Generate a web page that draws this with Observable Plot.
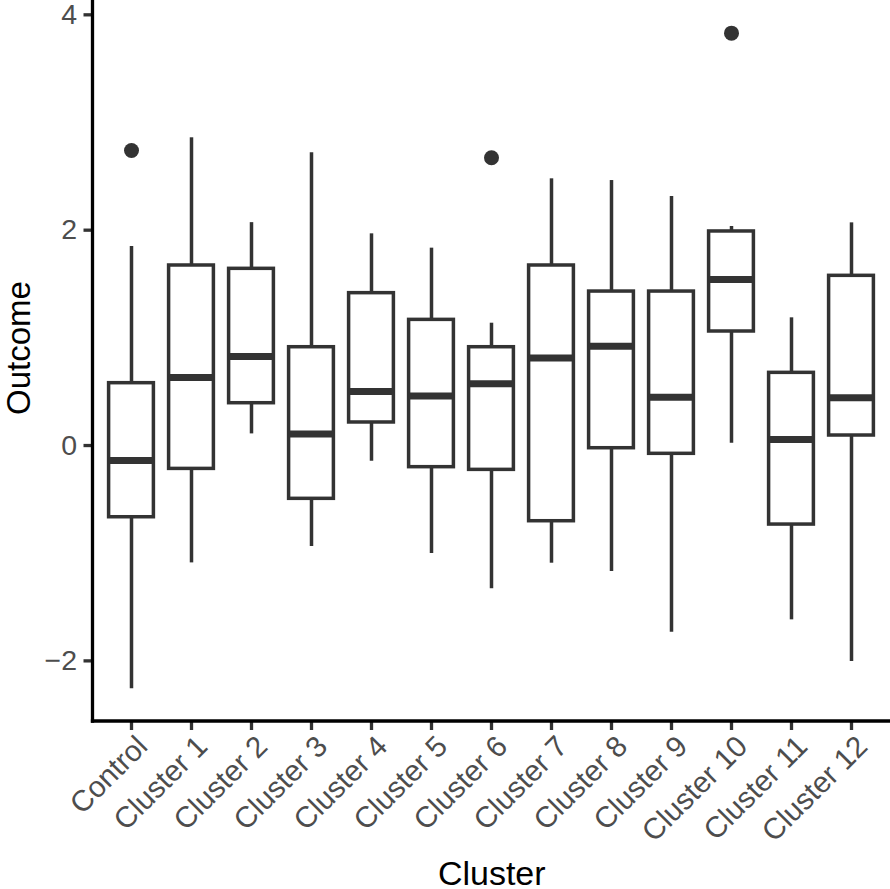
<!DOCTYPE html>
<html>
<head>
<meta charset="utf-8">
<script src="https://cdn.jsdelivr.net/npm/d3@7"></script>
<script src="https://cdn.jsdelivr.net/npm/@observablehq/plot@0.6"></script>
<style>
  html, body { margin: 0; padding: 0; background: #fff; }
  #chart svg { display: block; }
</style>
</head>
<body>
<div id="chart"></div>
<script>
const categories = ["Control", "Cluster 1", "Cluster 2", "Cluster 3", "Cluster 4", "Cluster 5", "Cluster 6", "Cluster 7", "Cluster 8", "Cluster 9", "Cluster 10", "Cluster 11", "Cluster 12"];
const lowerWhisker = [-2.26, -1.09, 0.108, -0.938, -0.146, -1.003, -1.33, -1.093, -1.17, -1.734, 0.021, -1.619, -2.006];
const q1 = [-0.666, -0.217, 0.393, -0.495, 0.214, -0.201, -0.226, -0.703, -0.025, -0.077, 1.059, -0.734, 0.093];
const median = [-0.139, 0.632, 0.827, 0.108, 0.502, 0.461, 0.573, 0.814, 0.922, 0.449, 1.542, 0.056, 0.443];
const q3 = [0.579, 1.672, 1.641, 0.913, 1.415, 1.167, 0.913, 1.672, 1.430, 1.430, 1.988, 0.675, 1.576];
const upperWhisker = [1.848, 2.858, 2.07, 2.718, 1.966, 1.833, 1.136, 2.477, 2.461, 2.313, 2.034, 1.186, 2.068];
const outlierCategory = ["Control", "Cluster 6", "Cluster 10"];
const outlierValue = [2.74, 2.672, 3.83];
const yTicks = [-2, 0, 2, 4];
const xTitle = "Cluster";
const yTitle = "Outcome";

const boxes = categories.map((c, i) => ({
  cluster: c, lo: lowerWhisker[i], q1: q1[i], med: median[i], q3: q3[i], hi: upperWhisker[i]
}));
const outliers = outlierCategory.map((c, i) => ({cluster: c, value: outlierValue[i]}));

const W = 890, H = 889;
const stroke = "#333333";
const boxInset = 7.6;
const font = "'Liberation Sans', Arial, Helvetica, sans-serif";

const chart = Plot.plot({
  width: W,
  height: H,
  marginLeft: 92.5,
  marginRight: 0,
  marginTop: 0,
  marginBottom: 168,
  style: {fontFamily: font, background: "#fff"},
  x: {type: "band", domain: categories, paddingInner: 0, paddingOuter: 0.1, align: 0.5},
  y: {domain: [-2.563, 4.133]},
  marks: [
    Plot.axisY({
      ticks: yTicks, tickSize: 9, tickPadding: 7, fontSize: 28.5,
      tickFormat: d => d < 0 ? "\u2212" + Math.abs(d) : String(d),
      stroke: stroke, strokeWidth: 3.3, fill: "#4D4D4D", label: null
    }),
    // tick marks only
    Plot.axisX({
      tickSize: 9, tickFormat: () => "", stroke: stroke, strokeWidth: 3.3, label: null
    }),
    // rotated tick labels only
    Plot.axisX({
      tickSize: 0, tickPadding: 12, tickRotate: -45, fontSize: 29.5,
      fill: "#4D4D4D", label: null, dx: 11, dy: 8
    }),
    Plot.ruleX(boxes, {x: "cluster", y1: "lo", y2: "q1", stroke: stroke, strokeWidth: 3.5}),
    Plot.ruleX(boxes, {x: "cluster", y1: "q3", y2: "hi", stroke: stroke, strokeWidth: 3.5}),
    Plot.barY(boxes, {
      x: "cluster", y1: "q1", y2: "q3", fill: "white", stroke: stroke, strokeWidth: 3.5,
      insetLeft: boxInset, insetRight: boxInset
    }),
    Plot.tickY(boxes, {
      x: "cluster", y: "med", stroke: stroke, strokeWidth: 7,
      insetLeft: boxInset, insetRight: boxInset
    }),
    Plot.dot(outliers, {x: "cluster", y: "value", r: 7.5, fill: stroke, stroke: "none"}),
    Plot.text([xTitle], {
      frameAnchor: "bottom", text: d => d, lineAnchor: "bottom", textAnchor: "middle",
      dy: 163, fontSize: 34, fill: "#000"
    }),
    Plot.text([yTitle], {
      frameAnchor: "left", text: d => d, lineAnchor: "bottom", textAnchor: "middle",
      rotate: -90, dx: -63.5, dy: -13, fontSize: 33, fill: "#000"
    })
  ]
});

// axis lines (theme_classic) drawn from the library's scale ranges
const xr = chart.scale("x").range;
const yr = chart.scale("y").range;
const svg = d3.select(chart);
const g = svg.append("g").attr("stroke", "#000").attr("stroke-width", 3.3).attr("stroke-linecap", "square");
g.append("line").attr("x1", xr[0]).attr("x2", xr[0]).attr("y1", yr[0]).attr("y2", yr[1]);
g.append("line").attr("x1", xr[0]).attr("x2", xr[1]).attr("y1", yr[0]).attr("y2", yr[0]);

document.getElementById("chart").appendChild(chart);
</script>
</body>
</html>
